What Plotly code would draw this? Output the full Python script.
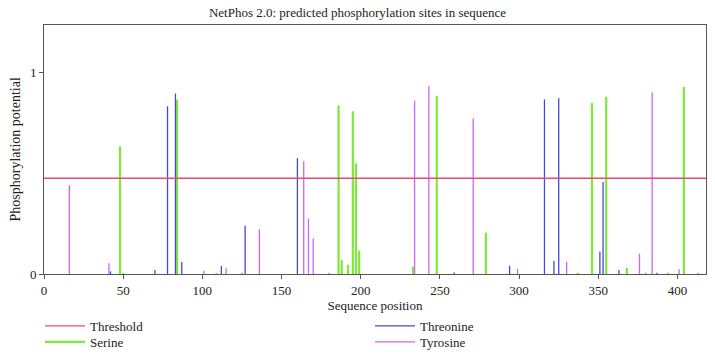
import plotly.graph_objects as go

# ---- data ----
seq_length = 418
threshold = 0.475

serine_pos = [48, 50, 84, 109, 125, 180, 186, 188, 192, 195, 197, 199, 233, 248, 279,
              337, 346, 355, 368, 380, 394, 404, 413]
serine_val = [0.633, 0.006, 0.865, 0.006, 0.006, 0.006, 0.836, 0.07, 0.046, 0.807, 0.549,
              0.116, 0.036, 0.884, 0.205, 0.006, 0.849, 0.879, 0.03, 0.006, 0.006, 0.928, 0.006]

threonine_pos = [42, 70, 78, 83, 87, 112, 127, 160, 259, 294, 316, 322, 325, 351, 353, 363, 387]
threonine_val = [0.013, 0.02, 0.832, 0.895, 0.06, 0.04, 0.239, 0.575, 0.008, 0.041, 0.866,
                 0.065, 0.872, 0.112, 0.456, 0.02, 0.006]

tyrosine_pos = [16, 41, 101, 115, 136, 164, 167, 170, 234, 243, 271, 299, 330, 376, 384, 401]
tyrosine_val = [0.44, 0.053, 0.016, 0.028, 0.222, 0.559, 0.275, 0.176, 0.86, 0.932, 0.771,
                0.026, 0.06, 0.101, 0.9, 0.023]

x_ticks = [0, 50, 100, 150, 200, 250, 300, 350, 400]
y_ticks = [0, 1]


def stems(pos, val):
    xs, ys = [], []
    for p, v in zip(pos, val):
        xs += [p, p, None]
        ys += [0, v, None]
    return xs, ys


FONT = "Liberation Serif"
W, H = 715, 357
ML, MR, MT, MB = 44, 9, 25, 83
PW = W - ML - MR
fig = go.Figure()

for name, pos, val, color, width, lg in [
    ("Serine", serine_pos, serine_val, "#7ee83c", 2.2, "legend2"),
    ("Threonine", threonine_pos, threonine_val, "#4848d8", 1.3, "legend3"),
    ("Tyrosine", tyrosine_pos, tyrosine_val, "#cc66ee", 1.3, "legend4"),
]:
    xs, ys = stems(pos, val)
    fig.add_trace(go.Scatter(x=xs, y=ys, mode="lines", name=name, legend=lg,
                             line=dict(color=color, width=width), hoverinfo="skip"))

fig.add_trace(go.Scatter(x=[0, seq_length], y=[threshold, threshold], mode="lines",
                         name="Threshold", legend="legend",
                         line=dict(color="#e84a78", width=1.3)))

axis_common = dict(showline=True, linecolor="#555555", linewidth=1, mirror=True,
                   ticks="outside", ticklen=4, tickcolor="#555555", showgrid=False,
                   zeroline=False, tickfont=dict(family=FONT, size=13, color="#222"))


def legend_at(px_x, px_y):
    return dict(xref="container", yref="container", x=px_x / W, y=1 - px_y / H,
                xanchor="left", yanchor="middle", itemwidth=40,
                font=dict(family=FONT, size=13, color="#222"),
                bgcolor="rgba(0,0,0,0)")


fig.update_layout(
    width=W, height=H,
    margin=dict(l=ML, r=MR, t=MT, b=MB, autoexpand=False),
    paper_bgcolor="white", plot_bgcolor="white",
    font=dict(family=FONT, size=13, color="#222"),
    title=dict(text="NetPhos 2.0: predicted phosphorylation sites in sequence",
               x=0.5, xref="container", y=1 - 12 / H, yref="container", yanchor="middle",
               font=dict(family=FONT, size=13, color="#222")),
    xaxis=dict(range=[0, seq_length], tickvals=x_ticks,
               title=dict(text="Sequence position", standoff=4,
                          font=dict(family=FONT, size=13)),
               **axis_common),
    yaxis=dict(range=[0, 1.235], tickvals=y_ticks, **axis_common),
    annotations=[dict(text="Phosphorylation potential", textangle=-90,
                      xref="paper", yref="paper", x=(15 - ML) / PW, y=0.5,
                      xanchor="center", yanchor="middle", showarrow=False,
                      font=dict(family=FONT, size=14, color="#222"))],
    showlegend=True,
    legend=legend_at(40, 326),
    legend2=legend_at(40, 342),
    legend3=legend_at(370, 326),
    legend4=legend_at(370, 342),
)

fig.write_html(
    "out.html",
    config={"displayModeBar": False},
    post_script="document.body.style.margin='0';"
                "Plotly.relayout(document.getElementById('{plot_id}'), {});",
)
